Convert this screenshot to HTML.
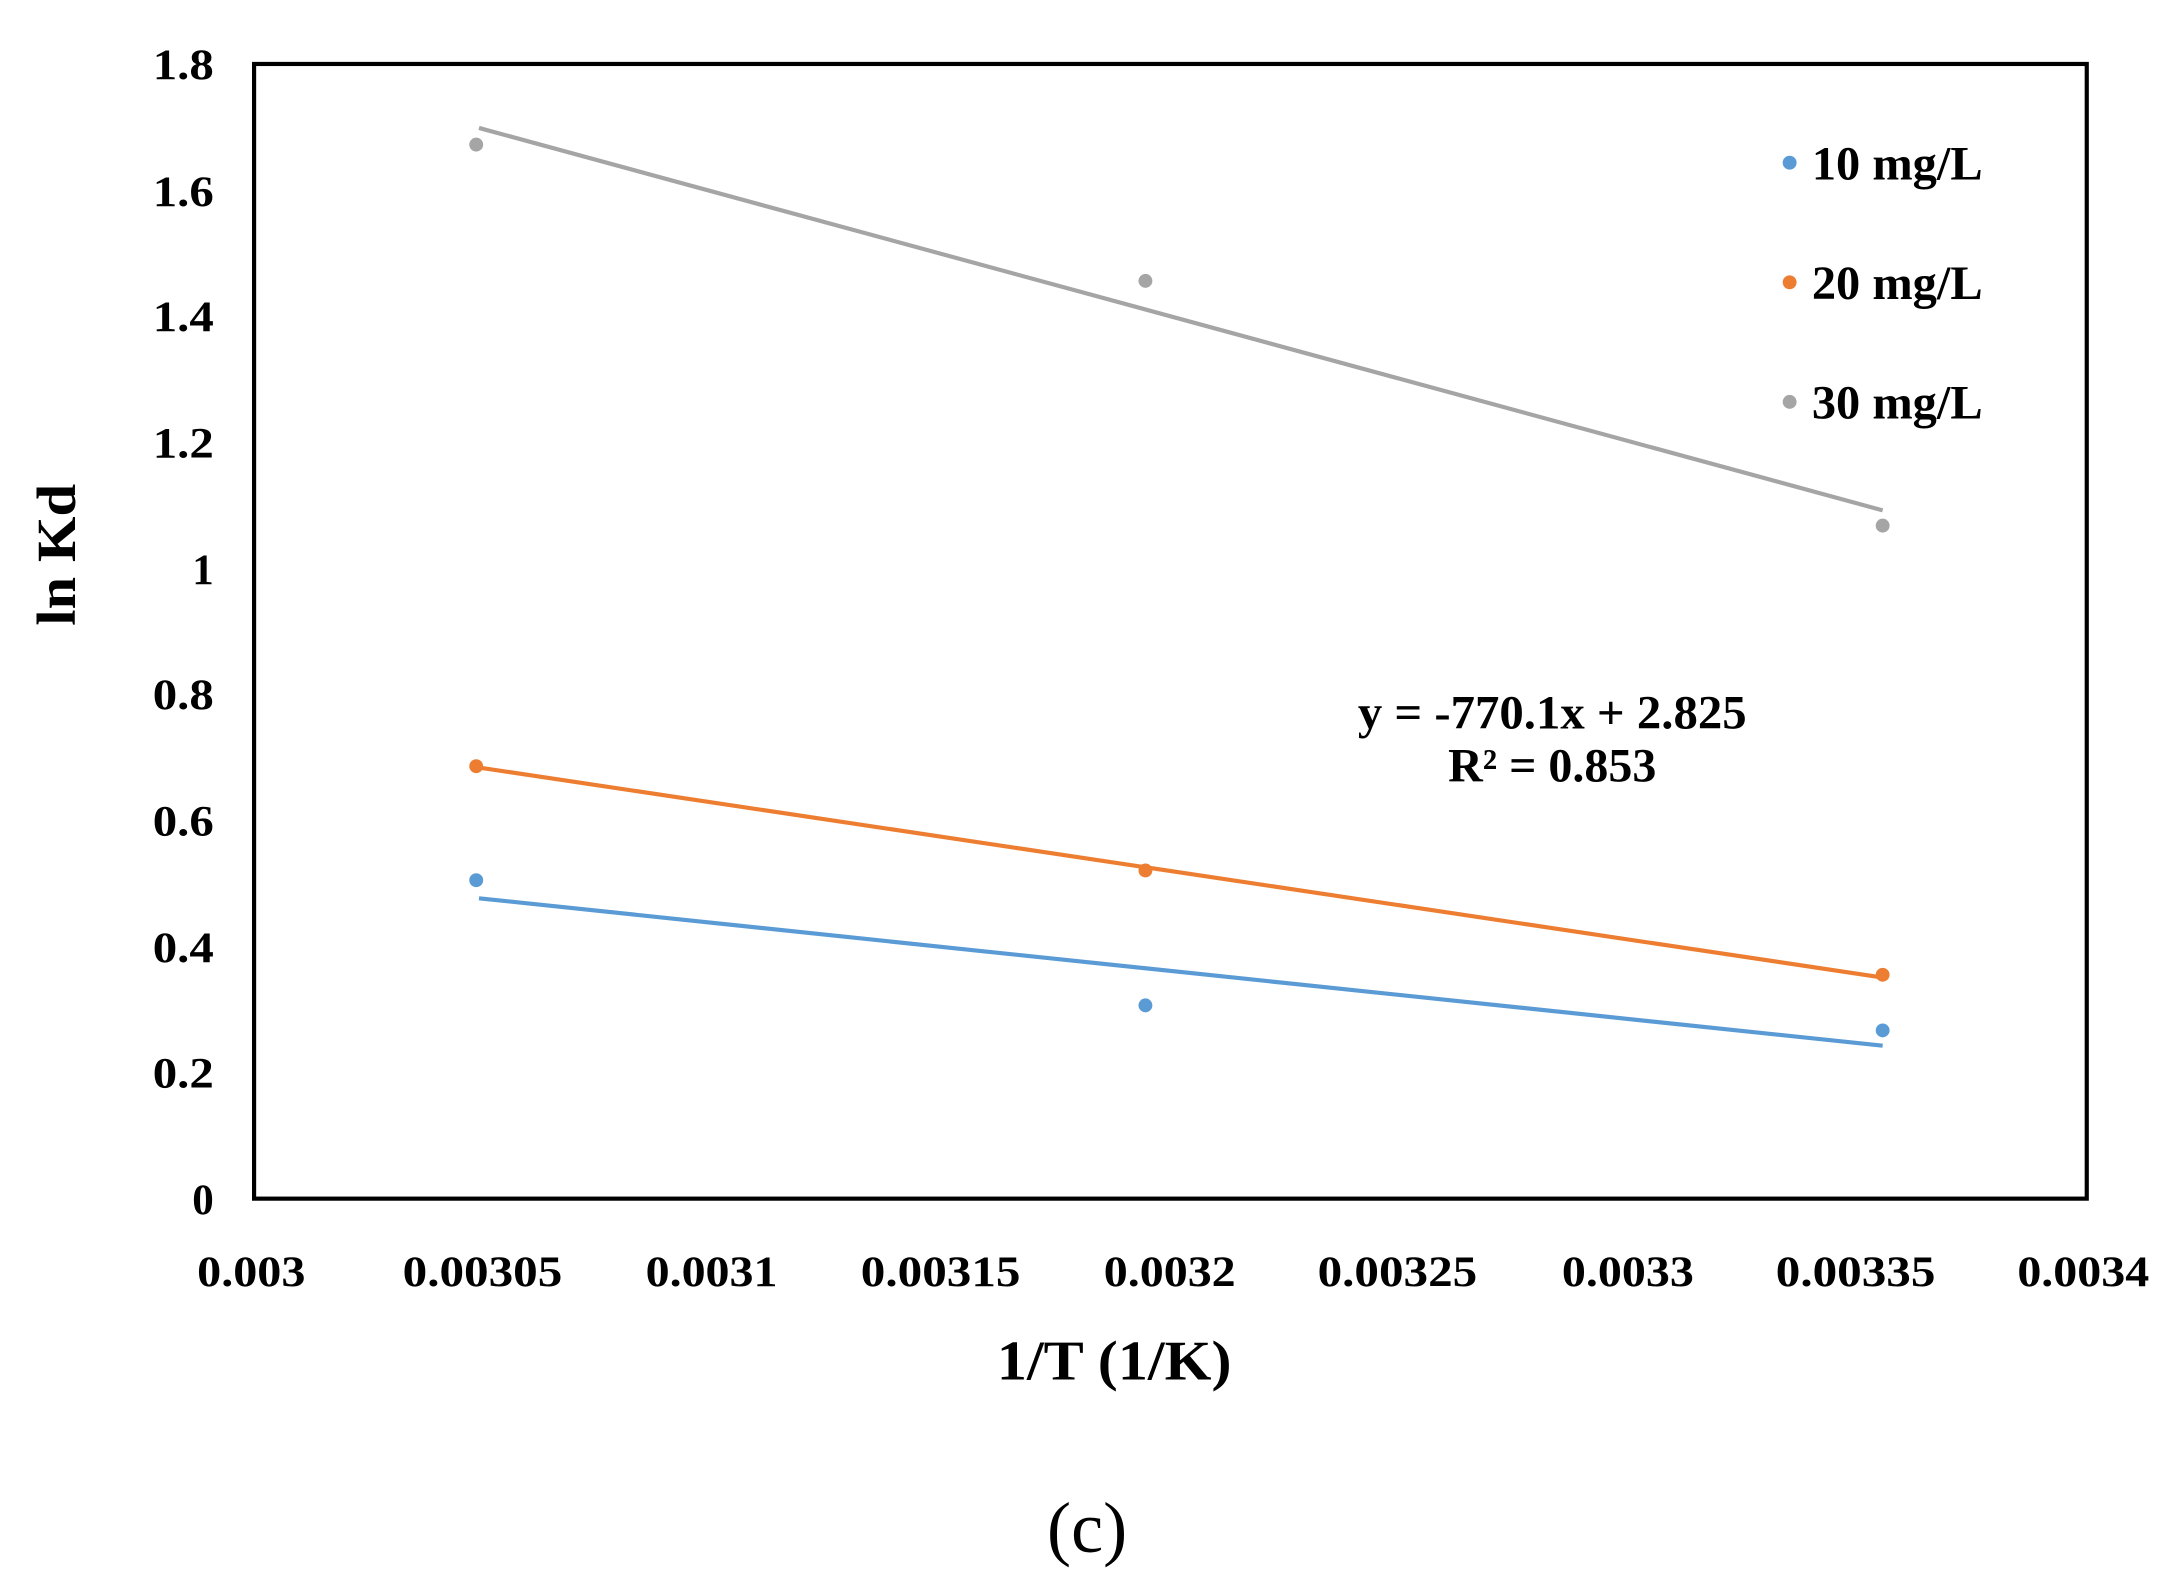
<!DOCTYPE html>
<html><head><meta charset="utf-8"><style>
html,body{margin:0;padding:0;background:#fff;}
svg{display:block;}
text{font-family:"Liberation Serif",serif;font-weight:bold;fill:#000;}
</style></head><body>
<svg width="2177" height="1588" viewBox="0 0 1568 1142" preserveAspectRatio="none" xmlns="http://www.w3.org/2000/svg">
<rect x="0" y="0" width="1568" height="1142" fill="#fff"/>
<rect x="183" y="46" width="1320" height="816" fill="none" stroke="#000" stroke-width="3"/>
<g font-size="31" text-anchor="end" lengthAdjust="spacingAndGlyphs">
<text x="154" y="57" textLength="44" lengthAdjust="spacingAndGlyphs">1.8</text>
<text x="154" y="148" textLength="44" lengthAdjust="spacingAndGlyphs">1.6</text>
<text x="154" y="238" textLength="44" lengthAdjust="spacingAndGlyphs">1.4</text>
<text x="154" y="329" textLength="44" lengthAdjust="spacingAndGlyphs">1.2</text>
<text x="154" y="420">1</text>
<text x="154" y="510" textLength="44" lengthAdjust="spacingAndGlyphs">0.8</text>
<text x="154" y="601" textLength="44" lengthAdjust="spacingAndGlyphs">0.6</text>
<text x="154" y="692" textLength="44" lengthAdjust="spacingAndGlyphs">0.4</text>
<text x="154" y="782" textLength="44" lengthAdjust="spacingAndGlyphs">0.2</text>
<text x="154" y="873">0</text>
</g>
<g font-size="31">
<text x="142" y="925" textLength="78" lengthAdjust="spacingAndGlyphs">0.003</text>
<text x="290" y="925" textLength="115" lengthAdjust="spacingAndGlyphs">0.00305</text>
<text x="465" y="925" textLength="95" lengthAdjust="spacingAndGlyphs">0.0031</text>
<text x="620" y="925" textLength="115" lengthAdjust="spacingAndGlyphs">0.00315</text>
<text x="795" y="925" textLength="95" lengthAdjust="spacingAndGlyphs">0.0032</text>
<text x="949" y="925" textLength="115" lengthAdjust="spacingAndGlyphs">0.00325</text>
<text x="1125" y="925" textLength="95" lengthAdjust="spacingAndGlyphs">0.0033</text>
<text x="1279" y="925" textLength="115" lengthAdjust="spacingAndGlyphs">0.00335</text>
<text x="1453" y="925" textLength="95" lengthAdjust="spacingAndGlyphs">0.0034</text>
</g>
<text x="718" y="992" font-size="40" textLength="169" lengthAdjust="spacingAndGlyphs">1/T (1/K)</text>
<text transform="translate(54,450) rotate(-90)" font-size="40" textLength="102" lengthAdjust="spacingAndGlyphs">ln Kd</text>
<text x="783" y="1116" font-size="52" text-anchor="middle" style="font-weight:normal">(c)</text>
<line x1="345" y1="92" x2="1356" y2="367" stroke="#a5a5a5" stroke-width="3"/>
<line x1="345" y1="552" x2="1356" y2="703" stroke="#ed7d31" stroke-width="3"/>
<line x1="345" y1="646" x2="1356" y2="752" stroke="#5b9bd5" stroke-width="3"/>
<g fill="#a5a5a5"><circle cx="343" cy="104" r="5"/><circle cx="825" cy="202" r="5"/><circle cx="1356" cy="378" r="5"/></g>
<g fill="#ed7d31"><circle cx="343" cy="551" r="5"/><circle cx="825" cy="626" r="5"/><circle cx="1356" cy="701" r="5"/></g>
<g fill="#5b9bd5"><circle cx="343" cy="633" r="5"/><circle cx="825" cy="723" r="5"/><circle cx="1356" cy="741" r="5"/></g>
<circle cx="1289" cy="117" r="5" fill="#5b9bd5"/>
<circle cx="1289" cy="203" r="5" fill="#ed7d31"/>
<circle cx="1289" cy="289" r="5" fill="#a5a5a5"/>
<g font-size="34">
<text x="1305" y="129" textLength="123" lengthAdjust="spacingAndGlyphs">10 mg/L</text>
<text x="1305" y="215" textLength="123" lengthAdjust="spacingAndGlyphs">20 mg/L</text>
<text x="1305" y="301" textLength="123" lengthAdjust="spacingAndGlyphs">30 mg/L</text>
</g>
<g font-size="34">
<text x="978" y="524" textLength="280" lengthAdjust="spacingAndGlyphs">y = -770.1x + 2.825</text>
<text x="1043" y="562" textLength="150" lengthAdjust="spacingAndGlyphs">R² = 0.853</text>
</g>
</svg>
</body></html>
